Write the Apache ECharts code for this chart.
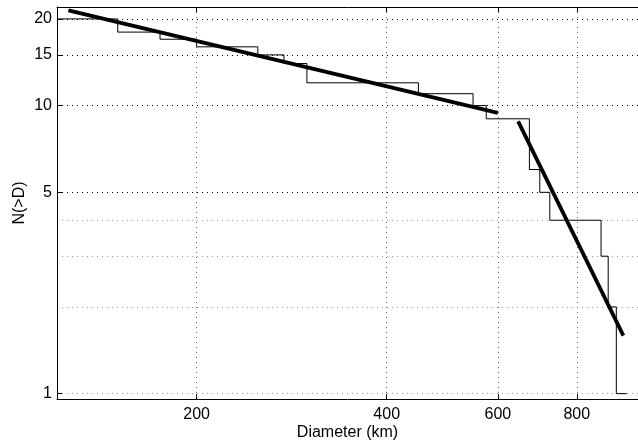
<!DOCTYPE html>
<html><head><meta charset="utf-8">
<script src="https://cdn.jsdelivr.net/npm/echarts@6/dist/echarts.min.js"></script>
<style>html,body{margin:0;padding:0;background:#fff}#c{width:638px;height:446px}</style>
</head><body><div id="c"></div>
<script>
// Cumulative count N(>D): diameter where count drops, and the new count
const stepD = [120.2, 150, 175, 200, 250, 275, 299, 449, 548, 575, 673, 699, 725, 874, 897, 924, 960];
const stepN = [20, 18, 17, 16, 15, 14, 12, 11, 10, 9, 6, 5, 4, 3, 2, 1, 1];
// Power-law fits (end points)
const fit1D = [125.3, 600];
const fit1N = [21.42, 9.43];
const fit2D = [646, 948];
const fit2N = [8.82, 1.59];
// Axes
const xTicks = [200, 400, 600, 800];
const yTicks = [1, 5, 10, 15, 20];
const yMajorGrid = [5, 10, 15, 20];
const yMinorGrid = [1, 2, 3, 4];
const xRange = [120.2, 1000];
const yRange = [0.958, 22];

const FONT = 'Liberation Sans, Arial, Helvetica, sans-serif';
const pairs = (a, b) => a.map((v, i) => [v, b[i]]);

const chart = echarts.init(document.getElementById('c'), null, {renderer: 'canvas'});
const baseX = {type: 'log', logBase: 10, min: xRange[0], max: xRange[1], gridIndex: 0};
const baseY = {type: 'log', logBase: 10, min: yRange[0], max: yRange[1], gridIndex: 0};
chart.setOption({
  animation: false,
  backgroundColor: '#fff',
  grid: {left: 57, top: 7, width: 587, height: 392, containLabel: false},
  xAxis: [
    Object.assign({}, baseX, {
      position: 'bottom',
      name: 'Diameter (km)', nameLocation: 'middle', nameGap: 26, nameMoveOverlap: false,
      nameTextStyle: {fontFamily: FONT, fontSize: 16, color: '#000'},
      axisLine: {show: true, onZero: false, lineStyle: {color: '#000', width: 1}},
      axisTick: {show: true, inside: true, length: 5, customValues: xTicks, lineStyle: {color: '#000'}},
      axisLabel: {show: true, customValues: xTicks, margin: 8, fontFamily: FONT, fontSize: 16, color: '#000',
        formatter: v => String(Math.round(v))},
      splitLine: {show: true, lineStyle: {color: '#666', width: 1, type: [1, 4]}}
    }),
    Object.assign({}, baseX, {
      position: 'top',
      axisLine: {show: true, onZero: false, lineStyle: {color: '#000', width: 1}},
      axisTick: {show: true, inside: true, length: 5, customValues: xTicks, lineStyle: {color: '#000'}},
      axisLabel: {show: false},
      splitLine: {show: false}
    })
  ],
  yAxis: [
    Object.assign({}, baseY, {
      position: 'left',
      name: 'N(>D)', nameLocation: 'middle', nameGap: 29, nameRotate: 90, nameMoveOverlap: false,
      nameTextStyle: {fontFamily: FONT, fontSize: 16, color: '#000'},
      axisLine: {show: true, onZero: false, lineStyle: {color: '#000', width: 1}},
      axisTick: {show: true, inside: true, length: 5, customValues: yTicks, lineStyle: {color: '#000'}},
      axisLabel: {show: true, customValues: yTicks, margin: 5, fontFamily: FONT, fontSize: 16, color: '#000',
        formatter: v => String(Math.round(v))},
      splitLine: {show: false}
    }),
    Object.assign({}, baseY, {
      position: 'left',
      axisLine: {show: false}, axisLabel: {show: false},
      axisTick: {show: false, customValues: yMajorGrid},
      splitLine: {show: true, lineStyle: {color: '#000', width: 1, type: [1, 4]}}
    }),
    Object.assign({}, baseY, {
      position: 'left',
      axisLine: {show: false}, axisLabel: {show: false},
      axisTick: {show: false, customValues: yMinorGrid},
      splitLine: {show: true, lineStyle: {color: '#999', width: 1, type: [1, 4]}}
    })
  ],
  series: [
    {type: 'line', name: 'data', xAxisIndex: 0, yAxisIndex: 0, step: 'end', showSymbol: false, symbol: 'none',
      data: pairs(stepD, stepN), lineStyle: {color: '#000', width: 1}, z: 3},
    {type: 'line', name: 'fit1', xAxisIndex: 0, yAxisIndex: 0, showSymbol: false, symbol: 'none',
      data: pairs(fit1D, fit1N), lineStyle: {color: '#000', width: 3.8, cap: 'butt'}, z: 4},
    {type: 'line', name: 'fit2', xAxisIndex: 0, yAxisIndex: 0, showSymbol: false, symbol: 'none',
      data: pairs(fit2D, fit2N), lineStyle: {color: '#000', width: 3.8, cap: 'butt'}, z: 4}
  ]
});
</script></body></html>
